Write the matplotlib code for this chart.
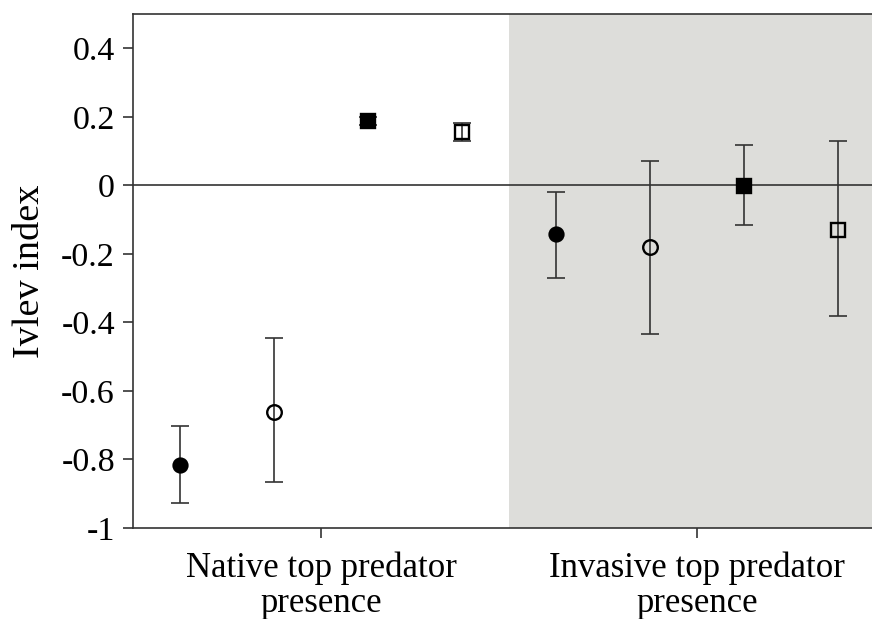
import matplotlib
matplotlib.use("Agg")
import matplotlib.pyplot as plt

plt.rcParams['font.family'] = ['Liberation Serif', 'DejaVu Serif']

# data
groups = ["Native top predator\npresence", "Invasive top predator\npresence"]
positions = [1, 2, 3, 4, 5, 6, 7, 8]
means = [-0.815, -0.661, 0.188, 0.157, -0.142, -0.179, -0.002, -0.130]
upper = [-0.703, -0.446, 0.199, 0.183, -0.018, 0.070, 0.118, 0.128]
lower = [-0.928, -0.867, 0.176, 0.130, -0.269, -0.433, -0.116, -0.381]
markers = ['o', 'o', 's', 's', 'o', 'o', 's', 's']
filled = [True, False, True, False, True, False, True, False]
group_ticks = [2.5, 6.5]
yticks = [-1, -0.8, -0.6, -0.4, -0.2, 0, 0.2, 0.4]
ytick_labels = ["-1", "-0.8", "-0.6", "-0.4", "-0.2", "0", "0.2", "0.4"]

line_c = '#333333'
fig = plt.figure(figsize=(8.72, 6.19), dpi=100)
ax = fig.add_axes([133/872, (619-528)/619, (872-133)/872, (528-14)/619])

ax.axvspan(4.5, 9, color='#ddddda', zorder=0, lw=0)
ax.axhline(0, color=line_c, lw=1.2, zorder=1)

for x, m, u, l, mk, f in zip(positions, means, upper, lower, markers, filled):
    ax.errorbar([x], [m], yerr=[[m - l], [u - m]], fmt='none', ecolor=line_c,
                elinewidth=1.2, capsize=6.5, capthick=1.2, zorder=2)
    if mk == 'o':
        ms = 10 if f else 10.5
    else:
        ms = 9.5 if f else 10.5
    ax.plot([x], [m], marker=mk, ms=ms, mfc='black' if f else 'none',
            mec='black', mew=1.7, linestyle='none', zorder=3)

ax.set_xlim(0.5, 8.36)
ax.set_ylim(-1, 0.5)
ax.set_xticks(group_ticks)
ax.set_xticklabels(groups, fontsize=25, linespacing=1.08)
ax.set_yticks(yticks)
ax.set_yticklabels(ytick_labels, fontsize=24.5)
ax.set_ylabel("Ivlev index", fontsize=27.5, labelpad=10)
ax.tick_params(direction='out', length=7, width=1.2, color=line_c, pad=6)
ax.tick_params(axis='x', pad=10)
for s in ['left', 'bottom', 'top']:
    ax.spines[s].set_color(line_c)
    ax.spines[s].set_linewidth(1.2)
ax.spines['right'].set_visible(False)

fig.savefig("out.png", dpi=100)
